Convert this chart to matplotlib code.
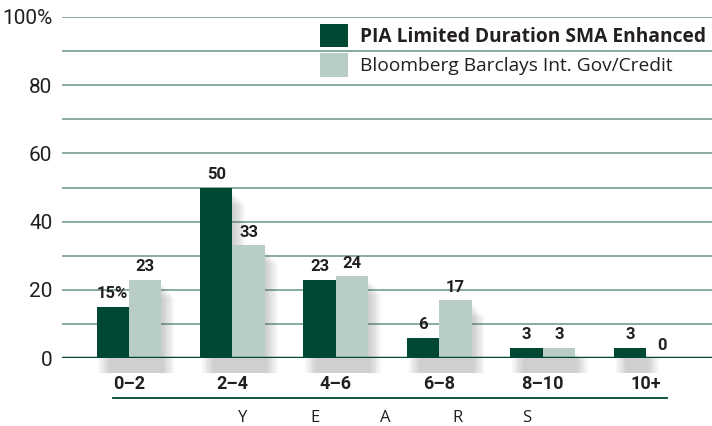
import matplotlib
matplotlib.use("Agg")
import matplotlib.pyplot as plt
import numpy as np

groups = ["0\u20132", "2\u20134", "4\u20136", "6\u20138", "8\u201310", "10+"]
pia = [15, 50, 23, 6, 3, 3]
bbg = [23, 33, 24, 17, 3, 0]
pia_labels = ["15%", "50", "23", "6", "3", "3"]
bbg_labels = ["23", "33", "24", "17", "3", "0"]
yticks = [0, 20, 40, 60, 80, 100]
ytick_labels = ["0", "20", "40", "60", "80", "100%"]
series_names = ["PIA Limited Duration SMA Enhanced", "Bloomberg Barclays Int. Gov/Credit"]
years = ["Y", "E", "A", "R", "S"]

dark = "#004833"
light = "#b7cdc5"
grid = "#7fa595"
txt = "#231f20"
narrow = ["Roboto", "DejaVu Sans"]
wide = ["Open Sans", "DejaVu Sans"]

fig = plt.figure(figsize=(7.12, 4.26), dpi=100)
ax = fig.add_axes([62 / 712, 68 / 426, 650 / 712, 341 / 426])

x = np.arange(len(groups))
w = 0.314

# soft drop shadow behind bars
for k in range(7):
    off = 0.02 + k * 0.017
    for i in range(len(groups)):
        h1 = pia[i] - 1.5 - k * 0.6
        h2 = bbg[i] - 1.5 - k * 0.6
        ax.bar(x[i] - w / 2 + off, max(h1, 0) + 4.5, w, bottom=-4.5, color="#555555",
               alpha=0.045, align="center", zorder=1, clip_on=False, linewidth=0)
        if bbg[i] > 0:
            ax.bar(x[i] + w / 2 + off, max(h2, 0) + 4.5, w, bottom=-4.5, color="#555555",
                   alpha=0.045, align="center", zorder=1, clip_on=False, linewidth=0)

ax.bar(x - w / 2, pia, w, color=dark, zorder=3, linewidth=0, label=series_names[0])
ax.bar(x + w / 2, bbg, w, color=light, zorder=3, linewidth=0, label=series_names[1])

for i in range(len(groups)):
    ax.text(x[i] - w / 2, pia[i] + 1.6, pia_labels[i], ha="center", va="bottom",
            family=narrow, fontweight="bold", fontsize=12, color=txt, zorder=4)
    ax.text(x[i] + w / 2, bbg[i] + 1.6, bbg_labels[i], ha="center", va="bottom",
            family=narrow, fontweight="bold", fontsize=12, color=txt, zorder=4)

for yv in range(10, 101, 10):
    ax.axhline(yv, color=grid, linewidth=1.3, zorder=0)
ax.axhline(0, color=dark, linewidth=2.5, zorder=5)

ax.set_xlim(-0.648, 5.638)
ax.set_ylim(0, 100)
ax.set_yticks(yticks)
ax.set_yticklabels(ytick_labels, family=narrow, fontsize=15, color=txt)
ax.set_xticks(x)
ax.set_xticklabels(groups, family=narrow, fontweight="bold", fontsize=13, color=txt)
ax.tick_params(axis="both", length=0)
ax.tick_params(axis="y", pad=7)
ax.tick_params(axis="x", pad=12)
for s in ax.spines.values():
    s.set_visible(False)

leg = ax.legend(loc="upper right", bbox_to_anchor=(1.008, 1.013), frameon=False,
                prop=dict(family=wide, size=13.8),
                handlelength=1.45, handleheight=1.5, handletextpad=0.62,
                labelspacing=0.3, borderaxespad=0.2)
leg.get_texts()[0].set_fontweight("bold")
for t in leg.get_texts():
    t.set_color(txt)

fig.add_artist(plt.Line2D([113 / 712, 667 / 712], [1 - 398 / 426, 1 - 398 / 426],
                          color=dark, linewidth=1.3))
for lx, ch in zip([243, 315, 385, 458, 527], years):
    fig.text(lx / 712, 1 - 418 / 426, ch, ha="center", va="center",
             family=wide, fontsize=12, color=txt)

fig.savefig("out.png", dpi=100)
